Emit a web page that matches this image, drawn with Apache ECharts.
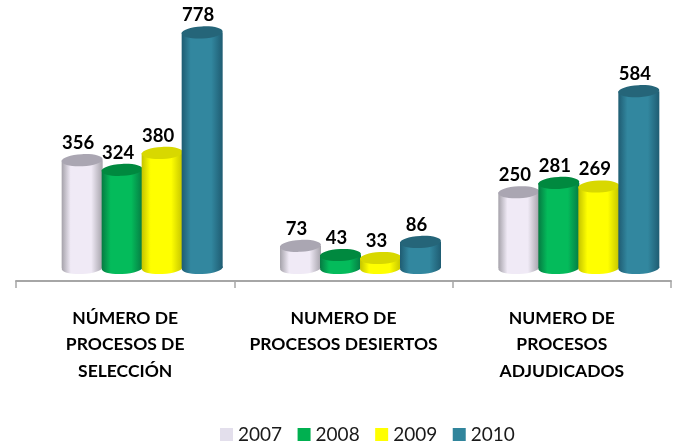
<!DOCTYPE html>
<html><head><meta charset="utf-8">
<style>html,body{margin:0;padding:0;background:#fff}#c{width:679px;height:443px}</style>
<script src="https://cdn.jsdelivr.net/npm/echarts@6/dist/echarts.min.js"></script>
</head><body><div id="c"></div>
<script>
const categories = ['NÚMERO DE\nPROCESOS DE\nSELECCIÓN', 'NUMERO DE\nPROCESOS DESIERTOS', 'NUMERO DE\nPROCESOS\nADJUDICADOS'];
const years = ['2007', '2008', '2009', '2010'];
const v2007 = [356, 73, 250];
const v2008 = [324, 43, 281];
const v2009 = [380, 33, 269];
const v2010 = [778, 86, 584];
const valuesByYear = [v2007, v2008, v2009, v2010];
const swatch = ['#e3dfec', '#00b050', '#ffff00', '#31859c'];
const edge = ['#a5a2aa', '#067a42', '#c4c400', '#1f5c72'];
const mid = ['#f0eaf6', '#04bb5b', '#ffff00', '#32879f'];
const topCap = ['#aaa6b2', '#00893f', '#d8d800', '#256579'];

const barW = 40, groupShift = 17, ry = 6, tilt = 0.05;

function cyl(i) {
  return function (params, api) {
    const p = api.coord([api.value(0), api.value(1)]);
    const base = api.coord([api.value(0), 0]);
    const cx = p[0] + groupShift + (i - 1.5) * barW;
    const g = {
      type: 'linearGradient', x: 0, y: 0, x2: 1, y2: 0,
      colorStops: [
        { offset: 0, color: edge[i] }, { offset: 0.22, color: mid[i] },
        { offset: 0.72, color: mid[i] }, { offset: 1, color: edge[i] }
      ]
    };
    const hw = barW / 2 + 0.5;
    return {
      type: 'group',
      children: [
        { type: 'ellipse', shape: { cx, cy: base[1], rx: hw, ry }, rotation: tilt, originX: cx, originY: base[1], style: { fill: g } },
        { type: 'rect', shape: { x: cx - hw, y: p[1], width: hw * 2, height: base[1] - p[1] }, style: { fill: g } },
        { type: 'ellipse', shape: { cx, cy: p[1], rx: hw, ry }, rotation: tilt, originX: cx, originY: p[1], style: { fill: topCap[i] } },
        { type: 'text', style: { x: cx - 4, y: p[1] - 17, text: String(api.value(1)), align: 'center', verticalAlign: 'middle', fill: '#000', font: 'bold 18.5px Lato' } }
      ]
    };
  };
}

const chart = echarts.init(document.getElementById('c'), null, { renderer: 'canvas' });
chart.setOption({
  animation: false,
  backgroundColor: '#fff',
  grid: { left: 16, width: 655, top: 0, bottom: 162, containLabel: false },
  xAxis: {
    type: 'category', data: categories,
    axisLine: { onZero: false, lineStyle: { color: '#a6a6a6', width: 2 } },
    axisTick: { show: true, alignWithLabel: false, length: 7, lineStyle: { color: '#a6a6a6', width: 1.5 } },
    axisLabel: { interval: 0, margin: 24, color: '#000', fontFamily: 'Lato', fontWeight: 'bold', fontSize: 17.5, lineHeight: 26.5, align: 'center' }
  },
  yAxis: { type: 'value', min: -43, max: 885, show: false, splitLine: { show: false } },
  legend: {
    left: 215, top: 420, itemWidth: 13, itemHeight: 13, itemGap: 15.5, icon: 'rect',
    textStyle: { fontFamily: 'Lato', fontSize: 19, color: '#1a1a1a' },
    data: years
  },
  series: years.map((y, i) => ({
    name: y, type: 'custom', renderItem: cyl(i), clip: false,
    itemStyle: { color: swatch[i] },
    encode: { x: 0, y: 1 },
    data: valuesByYear[i].map((v, k) => [k, v])
  }))
});
</script></body></html>
